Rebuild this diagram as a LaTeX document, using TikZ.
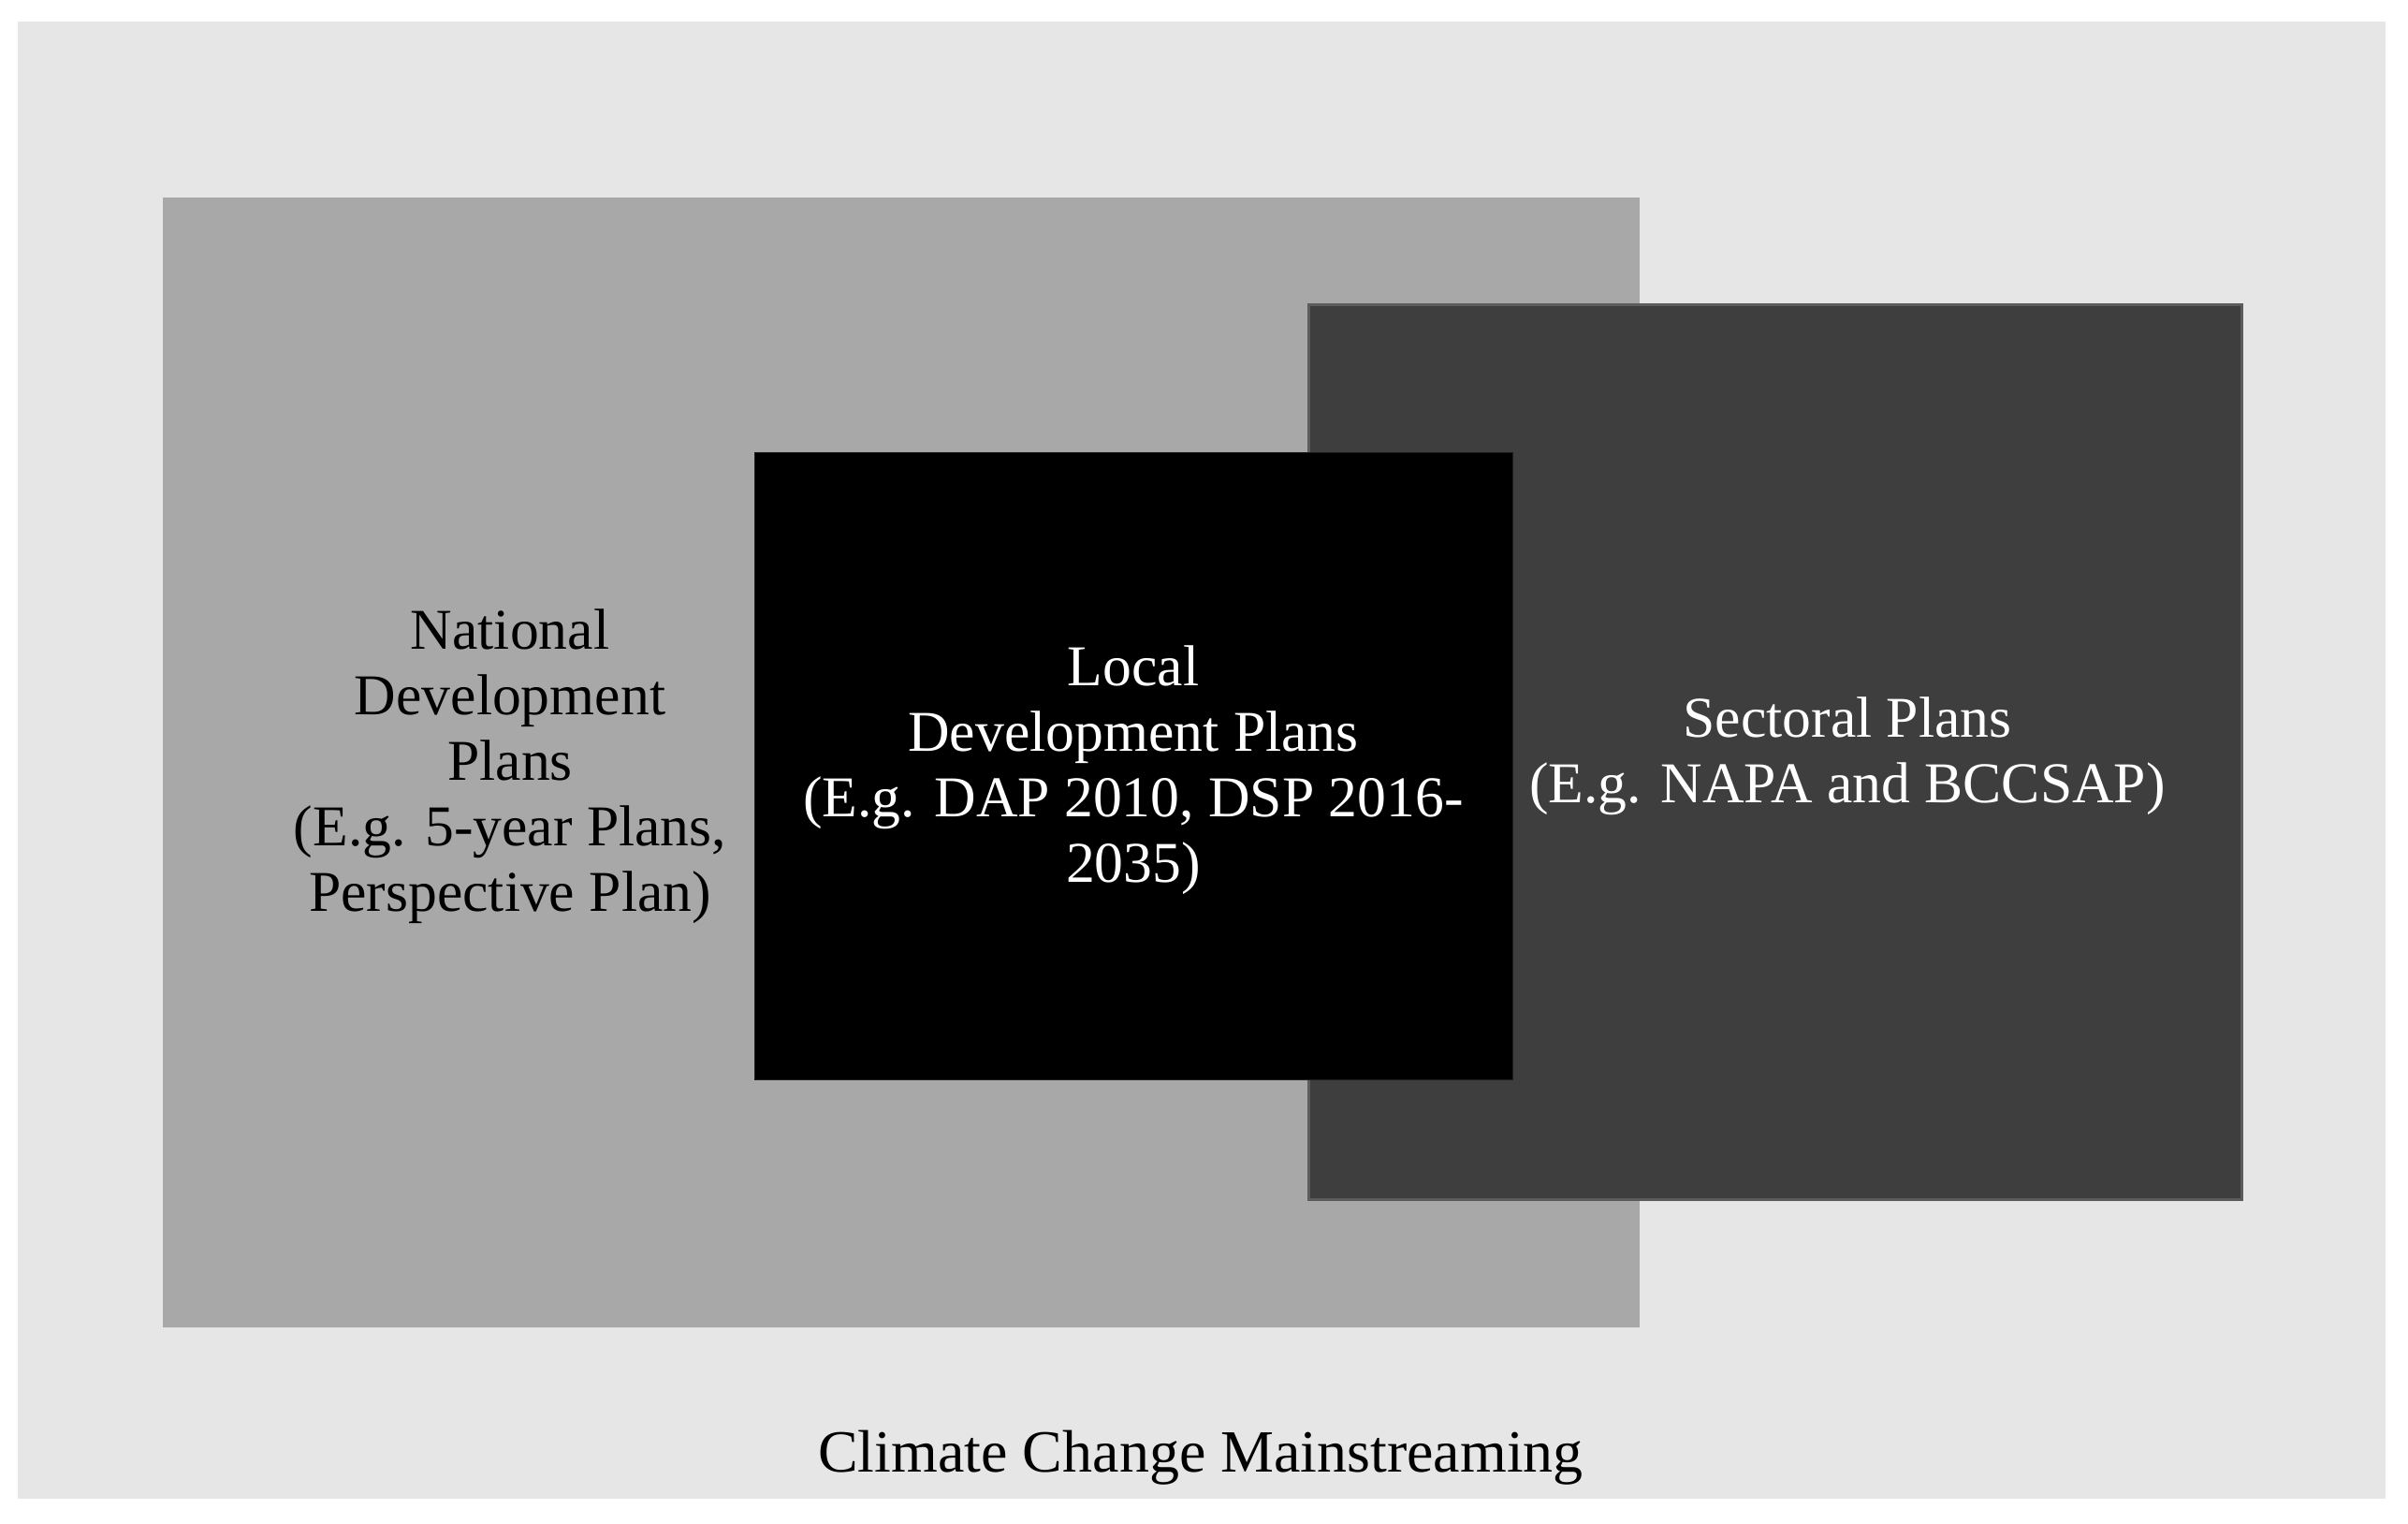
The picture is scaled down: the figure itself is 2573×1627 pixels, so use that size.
\documentclass[tikz,border=0pt]{standalone}
\usepackage{fontspec}
\setmainfont{Liberation Serif}
\definecolor{bgc}{HTML}{E6E6E6}
\definecolor{natc}{HTML}{A8A8A8}
\definecolor{secc}{HTML}{3E3E3E}
\definecolor{secb}{HTML}{5C5C5C}
\definecolor{locb}{HTML}{1E1E1E}
\begin{document}
\begin{tikzpicture}[x=0.3pt,y=-0.3pt,
  box/.style={rectangle, inner sep=0pt, outer sep=0pt},
  lbl/.style={font=\fontsize{18.5}{21}\selectfont, align=center, inner sep=0pt, anchor=base}]
\useasboundingbox (0,0) rectangle (2573,1627);
\fill[white] (0,0) rectangle (2573,1627);
\node[box, fill=bgc, minimum width=759pt, minimum height=473.4pt] (outer) at (1284,812) {};
\node[box, fill=natc, minimum width=473.4pt, minimum height=362.1pt] (nat) at (963,814.5) {};
\node[box, fill=secc, draw=secb, line width=0.9pt, minimum width=299.1pt, minimum height=286.8pt] (sec) at (1897,803.5) {};
\node[box, fill=black, draw=locb, line width=0.3pt, minimum width=243pt, minimum height=201pt] (loc) at (1211,818) {};
\node[lbl, text=black] (natlbl) at (545,973) {National\\Development\\Plans\\(E.g. 5-year Plans,\\Perspective Plan)};
\node[lbl, text=white] (loclbl) at (1211,942) {Local\\Development Plans\\(E.g. DAP 2010, DSP 2016-\\2035)};
\node[lbl, text=white] (seclbl) at (1974,857) {Sectoral Plans\\(E.g. NAPA and BCCSAP)};
\node[lbl, text=black, font=\fontsize{19.2}{21}\selectfont] (cclbl) at (1283,1572) {Climate Change Mainstreaming};
\end{tikzpicture}
\end{document}
